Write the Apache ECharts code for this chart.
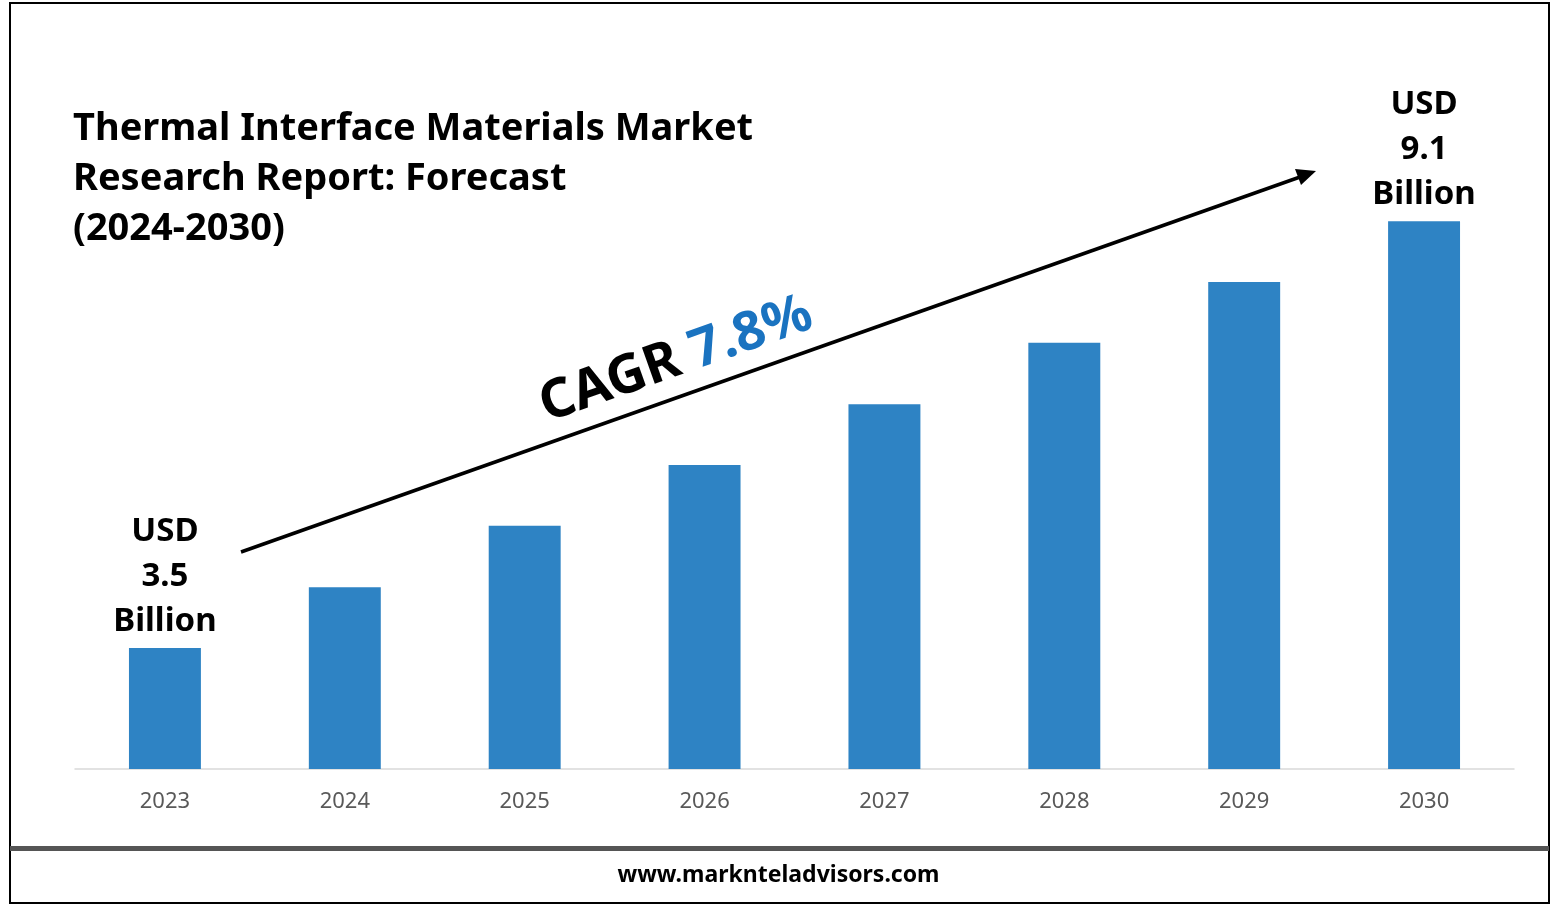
<!DOCTYPE html>
<html>
<head>
<meta charset="utf-8">
<script src="https://cdn.jsdelivr.net/npm/echarts@6/dist/echarts.min.js"></script>
<style>html,body{margin:0;padding:0;background:#fff}#main{width:1557px;height:907px}</style>
</head>
<body>
<div id="main"></div>
<script>
var years = ['2023', '2024', '2025', '2026', '2027', '2028', '2029', '2030'];
// bar heights (relative units, 2030 = 9.1)
var values = [2.01, 3.02, 4.04, 5.05, 6.06, 7.08, 8.09, 9.1];
var startLabel = 'USD\n3.5\nBillion';
var endLabel = 'USD\n9.1\nBillion';

var font = '"Noto Sans", "DejaVu Sans", sans-serif';
var chart = echarts.init(document.getElementById('main'));

var option = {
    animation: false,
    grid: { left: 75, right: 43, top: 167, bottom: 138 },
    xAxis: {
        type: 'category',
        data: years,
        axisTick: { show: false },
        axisLine: { lineStyle: { color: '#d9d9d9', width: 1.5 } },
        axisLabel: { color: '#595959', fontSize: 22, fontFamily: font, margin: 22 }
    },
    yAxis: { type: 'value', min: 0, max: 10, show: false, splitLine: { show: false } },
    series: [{
        type: 'bar',
        data: values,
        barCategoryGap: '60%',
        itemStyle: { color: '#2e83c4' },
        label: {
            show: true,
            position: 'top',
            distance: 4,
            color: '#000',
            fontSize: 33,
            fontWeight: 'bold',
            fontFamily: font,
            lineHeight: 45,
            formatter: function (p) {
                if (p.dataIndex === 0) return startLabel;
                if (p.dataIndex === values.length - 1) return endLabel;
                return '';
            }
        }
    }],
    graphic: [
        { type: 'rect', shape: { x: 10, y: 3, width: 1539, height: 900 }, style: { fill: 'none', stroke: '#000', lineWidth: 2 } },
        { type: 'rect', shape: { x: 10, y: 846, width: 1539, height: 5 }, style: { fill: '#555' } },
        { type: 'text', left: 'center', top: 864, style: { text: 'www.marknteladvisors.com', font: 'bold 23px ' + font, fill: '#000' } },
        { type: 'text', left: 73, top: 104, style: {
            text: 'Thermal Interface Materials Market\nResearch Report: Forecast\n(2024-2030)',
            font: 'bold 38px ' + font, fill: '#000', lineHeight: 50,
            shadowColor: 'rgba(0,0,0,0.35)', shadowBlur: 3, shadowOffsetX: 2, shadowOffsetY: 2 } },
        { type: 'line', shape: { x1: 241, y1: 552, x2: 1300, y2: 177 }, style: { stroke: '#000', lineWidth: 3.5 } },
        { type: 'polygon', shape: { points: [[1316, 171], [1295, 169], [1301, 185]] }, style: { fill: '#000' } },
        { type: 'text', x: 676, y: 360, rotation: Math.atan2(380, 1074),
          style: {
            text: '{a|CAGR }{b|7.8%}', align: 'center', verticalAlign: 'middle',
            rich: {
                a: { font: 'bold 54px ' + font, fill: '#000' },
                b: { font: 'bold 54px ' + font, fill: '#1a73c0' }
            }
          } }
    ]
};
chart.setOption(option);
</script>
</body>
</html>
